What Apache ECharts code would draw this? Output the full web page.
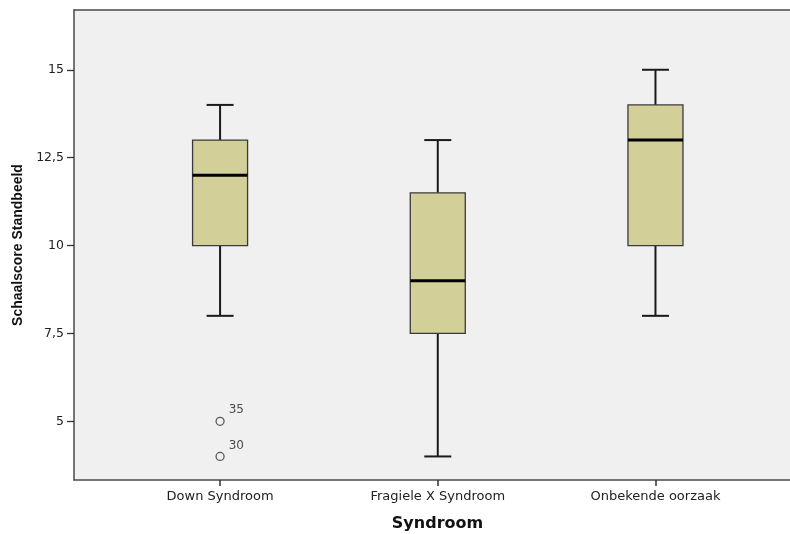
<!DOCTYPE html>
<html>
<head>
<meta charset="utf-8">
<script src="https://cdn.jsdelivr.net/npm/echarts@6/dist/echarts.min.js"></script>
<style>html,body{margin:0;padding:0;background:#fff;}#c{width:790px;height:534px;}</style>
</head>
<body>
<div id="c"></div>
<script>
// Data
var categories = ['Down Syndroom', 'Fragiele X Syndroom', 'Onbekende oorzaak'];
// [min whisker, Q1, median, Q3, max whisker]
var downStats = [8, 10, 12, 13, 14];
var fragieleStats = [4, 7.5, 9, 11.5, 13];
var onbekendStats = [8, 10, 13, 14, 15];
var outlierValues = [5, 4];
var outlierIds = ['35', '30'];
var yTicks = [5, 7.5, 10, 12.5, 15];

var allStats = [downStats, fragieleStats, onbekendStats];
var boxData = allStats.map(function (s, i) { return [i + 1].concat(s); });
var outlierData = outlierValues.map(function (v, i) { return [1, v, outlierIds[i]]; });
var xPos = categories.map(function (c, i) { return i + 1; });

var chart = echarts.init(document.getElementById('c'), null, {renderer: 'canvas'});
var font = '"DejaVu Sans", Verdana, sans-serif';
var boldFont = '"Liberation Sans", Arial, sans-serif';
var borderCol = '#4a4a4a';

function renderBox(params, api) {
  var x = api.value(0);
  var pMin = api.coord([x, api.value(1)]);
  var pQ1 = api.coord([x, api.value(2)]);
  var pMed = api.coord([x, api.value(3)]);
  var pQ3 = api.coord([x, api.value(4)]);
  var pMax = api.coord([x, api.value(5)]);
  var bw = 55, cw = 27;
  var cx = pMed[0];
  var lineStyle = {stroke: '#1a1a1a', lineWidth: 2};
  return {
    type: 'group',
    children: [
      {type: 'line', shape: {x1: cx, y1: pMax[1], x2: cx, y2: pQ3[1]}, style: lineStyle},
      {type: 'line', shape: {x1: cx, y1: pQ1[1], x2: cx, y2: pMin[1]}, style: lineStyle},
      {type: 'line', shape: {x1: cx - cw / 2, y1: pMax[1], x2: cx + cw / 2, y2: pMax[1]}, style: lineStyle},
      {type: 'line', shape: {x1: cx - cw / 2, y1: pMin[1], x2: cx + cw / 2, y2: pMin[1]}, style: lineStyle},
      {type: 'rect', shape: {x: cx - bw / 2, y: pQ3[1], width: bw, height: pQ1[1] - pQ3[1]},
        style: {fill: '#d3cf98', stroke: '#3a3a3a', lineWidth: 1.3}},
      {type: 'line', shape: {x1: cx - bw / 2, y1: pMed[1], x2: cx + bw / 2, y2: pMed[1]},
        style: {stroke: '#000', lineWidth: 3}}
    ]
  };
}

chart.setOption({
  animation: false,
  backgroundColor: '#ffffff',
  grid: {
    left: 74, right: -11, top: 10, bottom: 54,
    outerBoundsMode: 'none', containLabel: false,
    show: true, backgroundColor: '#f0f0f0', borderWidth: 0
  },
  xAxis: [{
    type: 'value', min: 0.329, max: 3.6685, position: 'bottom',
    name: 'Syndroom', nameLocation: 'middle', nameGap: 36,
    nameTextStyle: {fontFamily: font, fontWeight: 'bold', fontSize: 16, color: '#111'},
    axisLine: {show: true, onZero: false, lineStyle: {color: borderCol, width: 1.5}},
    splitLine: {show: false},
    axisTick: {show: true, customValues: xPos, length: 6, lineStyle: {color: '#333', width: 1.5}},
    axisLabel: {
      customValues: xPos, margin: 10, fontFamily: font, fontSize: 13, color: '#222',
      formatter: function (v) { return categories[Math.round(v) - 1] || ''; }
    }
  }, {
    type: 'value', min: 0.329, max: 3.6685, position: 'top',
    axisLine: {show: true, onZero: false, lineStyle: {color: borderCol, width: 1.5}},
    axisTick: {show: false}, axisLabel: {show: false}, splitLine: {show: false}
  }],
  yAxis: {
    type: 'value', min: 3.33, max: 16.7,
    name: 'Schaalscore Standbeeld', nameLocation: 'middle', nameGap: 41, nameRotate: 90,
    nameTextStyle: {fontFamily: boldFont, fontWeight: 'bold', fontSize: 14, color: '#111'},
    axisLine: {show: true, onZero: false, lineStyle: {color: borderCol, width: 1.5}},
    splitLine: {show: false},
    axisTick: {show: true, customValues: yTicks, length: 7, lineStyle: {color: '#333', width: 1.3}},
    axisLabel: {
      customValues: yTicks, margin: 10, fontFamily: font, fontSize: 12.5, color: '#222',
      formatter: function (v) { return String(v).replace('.', ','); }
    }
  },
  series: [
    {
      type: 'custom',
      renderItem: renderBox,
      data: boxData,
      encode: {x: 0, y: [1, 2, 3, 4, 5]},
      z: 3
    },
    {
      type: 'scatter',
      data: outlierData,
      symbol: 'circle',
      symbolSize: 8,
      itemStyle: {color: '#f0f0f0', borderColor: '#333', borderWidth: 1.3},
      label: {
        show: true, position: 'right', offset: [-1, -11],
        formatter: function (p) { return p.value[2]; },
        fontFamily: font, fontSize: 12, color: '#222'
      },
      z: 4
    }
  ]
});
</script>
</body>
</html>
